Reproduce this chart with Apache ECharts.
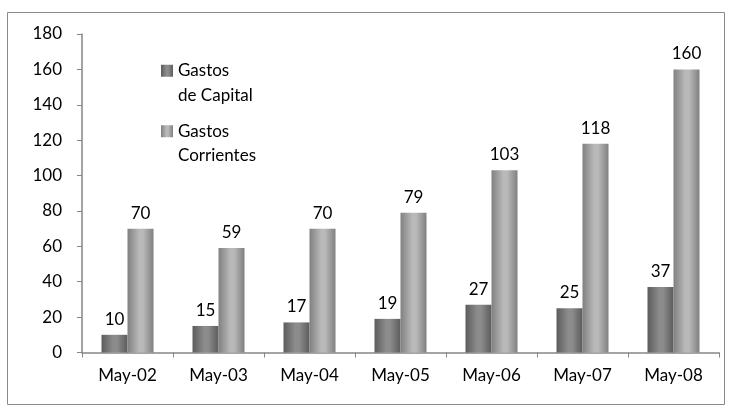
<!DOCTYPE html>
<html><head><meta charset="utf-8">
<script src="https://cdn.jsdelivr.net/npm/echarts@6/dist/echarts.min.js"></script>
<style>html,body{margin:0;padding:0;background:#fff}#c{width:732px;height:413px}</style>
</head><body><div id="c"></div>
<script>
var categories = ['May-02','May-03','May-04','May-05','May-06','May-07','May-08'];
var capital = [10, 15, 17, 19, 27, 25, 37];
var corrientes = [70, 59, 70, 79, 103, 118, 160];
var seriesNames = ['Gastos de Capital', 'Gastos Corrientes'];
var legendLabels = {'Gastos de Capital': '\u00a0\nGastos\nde Capital', 'Gastos Corrientes': '\u00a0\nGastos\nCorrientes'};
var yTicks = {min: 0, max: 180, interval: 20};

var FONT = 'Lato';
var FS = 17;
function grad(edge, mid) {
  return new echarts.graphic.LinearGradient(0, 0, 1, 0, [
    {offset: 0, color: edge}, {offset: 0.45, color: mid}, {offset: 0.6, color: mid}, {offset: 1, color: edge}
  ]);
}
var chart = echarts.init(document.getElementById('c'), null, {renderer: 'canvas'});
chart.setOption({
  animation: false,
  textStyle: {fontFamily: FONT},
  graphic: [{type: 'rect', shape: {x: 7.5, y: 12.5, width: 717, height: 392}, style: {fill: 'none', stroke: '#8a8a8a', lineWidth: 1}, silent: true}],
  grid: {left: 82, right: 13, top: 34, bottom: 60.5},
  legend: {
    orient: 'vertical', left: 161, top: 34, itemWidth: 12, itemHeight: 12, itemGap: -13,
    icon: 'rect', padding: 0,
    data: seriesNames,
    formatter: function (n) { return legendLabels[n]; },
    textStyle: {fontFamily: FONT, fontSize: FS, lineHeight: 24.5, color: '#000'}
  },
  xAxis: {
    type: 'category', data: categories, boundaryGap: true,
    axisLine: {lineStyle: {color: '#868686', width: 1.5}},
    axisTick: {show: true, length: 5, lineStyle: {color: '#868686'}},
    axisLabel: {color: '#000', fontSize: FS, fontFamily: FONT, margin: 15}
  },
  yAxis: {
    type: 'value', min: yTicks.min, max: yTicks.max, interval: yTicks.interval,
    axisLine: {show: true, lineStyle: {color: '#868686', width: 1.5}},
    axisTick: {show: true, length: 5, lineStyle: {color: '#868686'}},
    splitLine: {show: false},
    axisLabel: {color: '#000', fontSize: FS, fontFamily: FONT, margin: 20}
  },
  series: [
    {name: seriesNames[0], type: 'bar', data: capital, barWidth: 26, barGap: '0%',
     itemStyle: {color: grad('#5c5c5c', '#8c8c8c')},
     label: {show: true, position: 'top', distance: 7, color: '#000', fontSize: FS, fontFamily: FONT}},
    {name: seriesNames[1], type: 'bar', data: corrientes, barWidth: 26, barGap: '0%',
     itemStyle: {color: grad('#808080', '#b9b9b9')},
     label: {show: true, position: 'top', distance: 7, color: '#000', fontSize: FS, fontFamily: FONT}}
  ]
});
</script></body></html>
